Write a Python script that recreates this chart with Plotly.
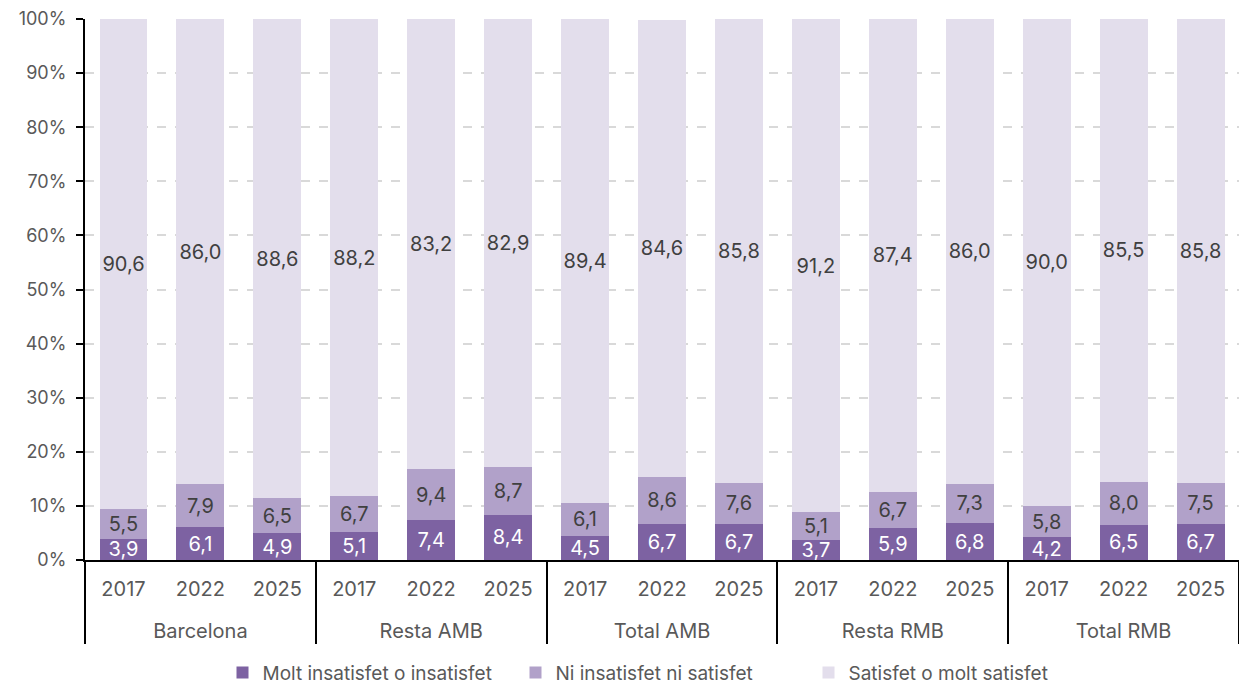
import plotly.graph_objects as go

zones = ["Barcelona", "Resta AMB", "Total AMB", "Resta RMB", "Total RMB"]
years = ["2017", "2022", "2025"]

insatisfet = [3.9, 6.1, 4.9, 5.1, 7.4, 8.4, 4.5, 6.7, 6.7, 3.7, 5.9, 6.8, 4.2, 6.5, 6.7]
ni_ni = [5.5, 7.9, 6.5, 6.7, 9.4, 8.7, 6.1, 8.6, 7.6, 5.1, 6.7, 7.3, 5.8, 8.0, 7.5]
satisfet = [90.6, 86.0, 88.6, 88.2, 83.2, 82.9, 89.4, 84.6, 85.8, 91.2, 87.4, 86.0, 90.0, 85.5, 85.8]

# el <br> davant del nom de zona baixa l'etiqueta del grup com a l'original
x_zone = ["<br>" + z for z in zones for _ in years]
x_year = [y for _ in zones for y in years]

series = [
    ("Molt insatisfet o insatisfet", insatisfet, "#7d62a2", "white"),
    ("Ni insatisfet ni satisfet", ni_ni, "#b1a1c9", "#404040"),
    ("Satisfet o molt satisfet", satisfet, "#e3deec", "#404040"),
]

fig = go.Figure()
for nom, vals, color, txt in series:
    fig.add_trace(go.Bar(
        x=[x_zone, x_year], y=vals, name=nom,
        marker=dict(color=color, line=dict(width=0)),
        texttemplate="%{y:.1f}", textposition="inside", textangle=0,
        insidetextanchor="middle", constraintext="none",
        textfont=dict(color=txt, size=20, family="Inter"),
        hoverinfo="skip",
    ))

fig.update_layout(
    barmode="stack",
    bargap=0.377,
    separators=",.",
    width=1239, height=687,
    plot_bgcolor="white", paper_bgcolor="white",
    font=dict(family="Inter", color="#595959", size=18),
    margin=dict(t=19, b=127, l=85, r=0, autoexpand=False),
    showlegend=True,
    legend=dict(
        orientation="h", yanchor="middle", y=-0.208,
        xanchor="center", x=0.5,
        font=dict(size=19, color="#595959"),
        itemwidth=30, traceorder="normal",
        entrywidth=248,
    ),
    xaxis=dict(
        type="multicategory", automargin=False,
        showline=True, linecolor="black", linewidth=2,
        showdividers=True, dividercolor="black", dividerwidth=2,
        tickfont=dict(size=20, color="#595959"),
        ticklabelstandoff=10,
        showgrid=False,
    ),
    yaxis=dict(
        range=[0, 100], dtick=10, ticksuffix="%", automargin=False,
        showline=True, linecolor="black", linewidth=2,
        ticks="outside", ticklen=7, tickcolor="black", tickwidth=2,
        ticklabelstandoff=6,
        showgrid=True, gridcolor="#d9d9d9", griddash="dash", gridwidth=1.5,
        zeroline=False,
        tickfont=dict(size=18, color="#595959"),
    ),
)

# treu el marge per defecte del body perquè la figura quedi a (0,0)
fig.write_html("out.html", config={"displayModeBar": False},
               post_script="document.body.style.margin='0';")
